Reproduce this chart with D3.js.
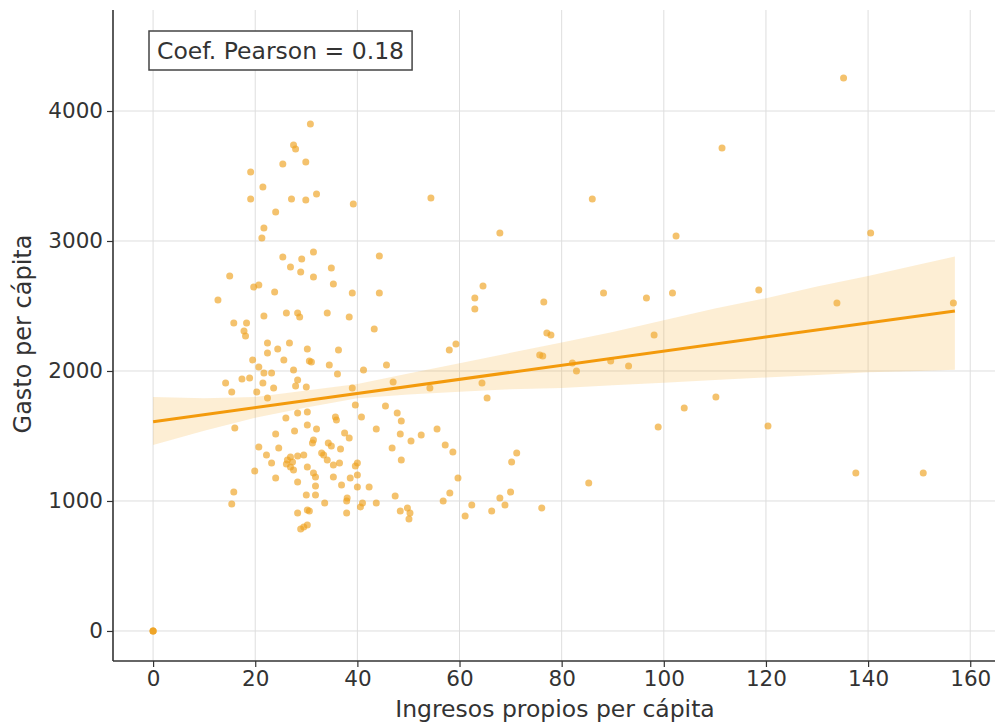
<!DOCTYPE html>
<html>
<head>
<meta charset="utf-8">
<script src="https://cdn.jsdelivr.net/npm/d3@7"></script>
<style>
  body { margin: 0; background: #fff; }
  svg text { font-family: "DejaVu Sans", sans-serif; fill: #333; }
</style>
</head>
<body>
<div id="chart"></div>
<script>
// Ingresos propios per cápita (x) vs Gasto per cápita (y)
const ingresos = [
  135.2, 111.4, 30.8, 27.5, 27.9, 19.1, 25.4, 29.9, 21.5, 19.1, 27.1, 29.9, 32.0, 39.2, 54.4, 86.0,
  24.0, 21.7, 21.3, 67.9, 102.4, 140.5, 25.4, 29.1, 31.4, 26.9, 28.9, 31.4, 34.9, 35.3, 44.3, 44.3,
  39.0, 64.6, 63.0, 63.0, 76.5, 88.2, 96.6, 101.7, 118.6, 133.9, 156.7, 15.0, 19.7, 20.7, 23.8, 12.7,
  21.7, 26.1, 28.3, 28.7, 34.1, 38.4, 43.3, 15.8, 18.3, 17.8, 18.1, 22.4, 22.4, 24.4, 26.7, 30.2,
  30.6, 31.0, 36.3, 19.5, 58.0, 59.3, 77.1, 77.9, 75.7, 76.3, 34.5, 45.7, 98.1, 82.1, 82.9, 89.6,
  93.1, 25.6, 20.7, 21.7, 23.2, 14.2, 17.4, 18.9, 21.5, 28.3, 27.9, 23.6, 15.4, 20.3, 30.0, 22.4,
  27.5, 36.1, 41.2, 47.0, 39.0, 54.2, 64.4, 65.4, 104.0, 98.9, 110.2, 120.4, 26.0, 28.3, 30.2, 16.0,
  24.0, 27.7, 20.7, 24.6, 22.2, 26.9, 28.3, 29.5, 23.2, 26.1, 26.9, 19.9, 27.5, 24.0, 28.3, 30.0,
  15.8, 15.4, 28.3, 30.2, 28.9, 30.2, 39.6, 45.5, 30.2, 35.7, 35.9, 40.8, 47.8, 48.6, 32.0, 43.7,
  37.5, 38.4, 48.4, 31.4, 31.2, 50.5, 34.3, 34.9, 36.7, 46.8, 33.0, 33.4, 48.6, 34.1, 35.3, 40.0,
  39.6, 36.5, 31.4, 31.8, 35.3, 40.0, 38.6, 31.8, 36.9, 42.3, 40.0, 31.8, 47.4, 38.0, 37.9, 41.0,
  40.6, 33.6, 43.7, 30.6, 48.4, 49.8, 50.3, 50.1, 37.9, 29.5, 26.3, 27.3, 30.2, 52.5, 55.6, 57.2,
  58.7, 59.7, 56.8, 58.1, 61.1, 62.4, 66.3, 67.9, 68.9, 70.0, 71.2, 70.2, 76.1, 85.3, 137.6, 150.8,
  0, 0, 0
];
const gasto = [
  4254, 3715, 3900, 3738, 3708, 3531, 3592, 3608, 3415, 3323, 3323, 3315, 3362, 3285, 3331, 3323,
  3223, 3100, 3023, 3062, 3038, 3062, 2877, 2862, 2915, 2800, 2762, 2723, 2792, 2669, 2885, 2600,
  2600, 2654, 2562, 2477, 2531, 2600, 2562, 2600, 2623, 2523, 2523, 2731, 2646, 2662, 2608, 2546,
  2423, 2446, 2446, 2415, 2446, 2415, 2323, 2369, 2369, 2308, 2269, 2215, 2138, 2169, 2215, 2169,
  2077, 2069, 2162, 2085, 2162, 2208, 2292, 2277, 2123, 2115, 2046, 2046, 2277, 2062, 2000, 2077,
  2038, 2085, 2031, 1985, 1985, 1908, 1938, 1946, 1908, 1931, 1885, 1869, 1838, 1838, 1877, 1792,
  2008, 1977, 2008, 1915, 1869, 1869, 1908, 1792, 1715, 1569, 1800, 1577, 1638, 1677, 1585, 1562,
  1515, 1538, 1415, 1408, 1354, 1338, 1346, 1354, 1292, 1285, 1262, 1231, 1238, 1177, 1146, 1046,
  1069, 977, 908, 931, 785, 815, 1738, 1731, 1685, 1646, 1623, 1646, 1677, 1615, 1554, 1554,
  1523, 1485, 1515, 1469, 1446, 1462, 1446, 1423, 1400, 1408, 1369, 1354, 1315, 1315, 1277, 1292,
  1269, 1292, 1215, 1185, 1185, 1200, 1177, 1115, 1123, 1108, 1108, 1046, 1038, 1023, 1000, 985,
  954, 985, 985, 923, 923, 946, 908, 862, 908, 800, 1315, 1300, 1262, 1508, 1554, 1431,
  1377, 1177, 1000, 1062, 885, 969, 923, 1023, 969, 1069, 1369, 1300, 946, 1138, 1215, 1215,
  0, 0, 0
];

// fitted line and confidence band
const regX = [0, 157];
const regY = [1610, 2462];
const ciX = [0, 10, 20, 30, 40, 50, 60, 70, 80, 90, 100, 110, 120, 130, 140, 150, 157];
const ciLow = [1430, 1540, 1640, 1720, 1790, 1820, 1840, 1860, 1870, 1890, 1910, 1930, 1950, 1970, 1990, 2000, 2010];
const ciHigh = [1800, 1790, 1800, 1850, 1900, 1980, 2060, 2140, 2220, 2300, 2390, 2480, 2560, 2650, 2730, 2820, 2880];

const xTicks = [0, 20, 40, 60, 80, 100, 120, 140, 160];
const yTicks = [0, 1000, 2000, 3000, 4000];
const pearson = 0.18;

const W = 999, H = 725;
const margin = { left: 113, right: 995, top: 10, bottom: 661 };

const svg = d3.select("#chart").append("svg")
  .attr("width", W)
  .attr("height", H);

const x = d3.scaleLinear().domain([-7.85, 164.85]).range([margin.left, margin.right]);
const y = d3.scaleLinear().domain([-231, 4777]).range([margin.bottom, margin.top]);

// grid
svg.append("g")
  .selectAll("line")
  .data(xTicks)
  .join("line")
  .attr("x1", d => x(d)).attr("x2", d => x(d))
  .attr("y1", margin.top).attr("y2", margin.bottom)
  .attr("stroke", "#dedede")
  .attr("stroke-width", 1);

svg.append("g")
  .selectAll("line")
  .data(yTicks)
  .join("line")
  .attr("x1", margin.left).attr("x2", margin.right)
  .attr("y1", d => y(d)).attr("y2", d => y(d))
  .attr("stroke", "#dedede")
  .attr("stroke-width", 1);

// points
const points = ingresos.map((d, i) => [d, gasto[i]]);
svg.append("g")
  .selectAll("circle")
  .data(points)
  .join("circle")
  .attr("cx", d => x(d[0]))
  .attr("cy", d => y(d[1]))
  .attr("r", 3.5)
  .attr("fill", "#eea21f")
  .attr("fill-opacity", 0.65);

// confidence band
const band = ciX.map((d, i) => [d, ciLow[i], ciHigh[i]]);
svg.append("path")
  .datum(band)
  .attr("fill", "#f7b13a")
  .attr("fill-opacity", 0.22)
  .attr("d", d3.area()
    .x(d => x(d[0]))
    .y0(d => y(d[1]))
    .y1(d => y(d[2])));

// regression line
svg.append("path")
  .datum(regX.map((d, i) => [d, regY[i]]))
  .attr("fill", "none")
  .attr("stroke", "#f39a0c")
  .attr("stroke-width", 3)
  .attr("d", d3.line().x(d => x(d[0])).y(d => y(d[1])));

// axes
const xAxis = svg.append("g")
  .attr("transform", "translate(0," + margin.bottom + ")")
  .call(d3.axisBottom(x).tickValues(xTicks).tickSize(6).tickPadding(4).tickSizeOuter(0));
const yAxis = svg.append("g")
  .attr("transform", "translate(" + margin.left + ",0)")
  .call(d3.axisLeft(y).tickValues(yTicks).tickFormat(d3.format("d")).tickSize(6).tickPadding(4).tickSizeOuter(0));

[xAxis, yAxis].forEach(a => {
  a.select(".domain").attr("stroke", "#333").attr("stroke-width", 1.6);
  a.selectAll(".tick line").attr("stroke", "#333").attr("stroke-width", 1.2);
  a.selectAll(".tick text").attr("font-size", 21.5).attr("fill", "#333");
});
// spines meet at the corner
xAxis.select(".domain").attr("d", "M" + margin.left + ",0H" + margin.right);
yAxis.select(".domain").attr("d", "M0," + margin.top + "V" + margin.bottom);

// axis labels
svg.append("text")
  .attr("x", 555)
  .attr("y", 717)
  .attr("text-anchor", "middle")
  .attr("font-size", 23.5)
  .text("Ingresos propios per cápita");

svg.append("text")
  .attr("transform", "translate(31,334) rotate(-90)")
  .attr("text-anchor", "middle")
  .attr("font-size", 24)
  .text("Gasto per cápita");

// annotation
const note = svg.append("g");
const noteText = note.append("text")
  .attr("x", 157)
  .attr("y", 59)
  .attr("font-size", 23.5)
  .text("Coef. Pearson = " + pearson.toFixed(2));
const bb = noteText.node().getBBox();
note.insert("rect", "text")
  .attr("x", 149)
  .attr("y", 31)
  .attr("width", bb.width + 16)
  .attr("height", 39)
  .attr("fill", "#fff")
  .attr("stroke", "#444")
  .attr("stroke-width", 1.5);
</script>
</body>
</html>
